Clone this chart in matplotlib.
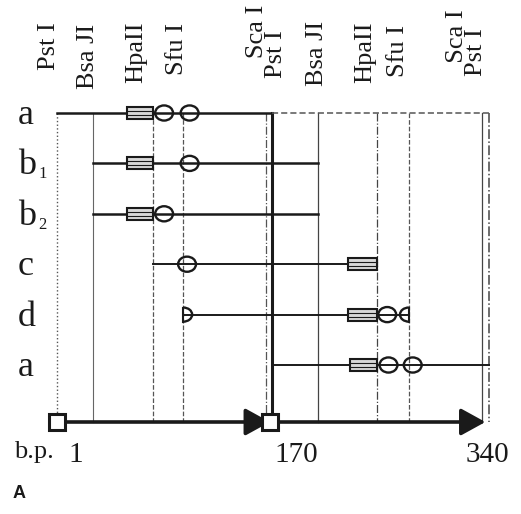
import matplotlib
matplotlib.use("Agg")
import matplotlib.pyplot as plt
from matplotlib.patches import Rectangle, Ellipse, Arc

# restriction sites along the 340 bp dimer (bp)
site_names = ["Pst I", "Bsa JI", "HpaII", "Sfu I", "Sca I", "Pst I",
              "Bsa JI", "HpaII", "Sfu I", "Sca I", "Pst I"]
site_bp = [1, 29, 76, 100, 165, 170, 206, 252, 277, 334, 340]

# fragments (rows)
row_names = ["a", "b", "b", "c", "d", "a"]
row_subs = ["", "1", "2", "", "", ""]
row_start = [1, 29, 29, 76, 100, 170]
row_end = [170, 206, 206, 252, 277, 340]
row_rects = [[(56, 76)], [(56, 76)], [(56, 76)], [(229, 252)], [(229, 252)], [(231, 252)]]
row_circles = [[85, 105], [105], [85], [103], [260], [261, 280]]
row_half_left = [None, None, None, None, 100, None]   # fragment starts inside a site
row_half_right = [None, None, None, None, 277, None]  # fragment ends inside a site

axis_ticks = [1, 170, 340]
axis_tick_labels = ["1", "170", "340"]

SERIF = ["Liberation Serif", "DejaVu Serif"]
INK = "#1a1a1a"

# layout helpers: pixel rows of the original figure -> data units
PX_ROW0, PX_STEP = 113, 50.4
def py(px):
    return (px - PX_ROW0) / PX_STEP

K = 1.275  # px per bp
X0 = 57
def bp_span(px):
    return px / K

fig = plt.figure(figsize=(5.21, 5.14), dpi=100, facecolor="white")
ax = fig.add_axes([0, 0, 1, 1])
ax.set_xlim(1 - X0 / K, 1 + (521 - X0) / K)
ax.set_ylim(py(514), py(0))
ax.axis("off")

y_top = py(113)
y_axis = py(422)

# vertical site lines
vstyles = [(":", 1.0, "#555555"), ("-", 0.8, "#666666"), ("--", 0.9, "#555555"),
           ("--", 0.9, "#555555"), ("-.", 0.9, "#555555"), ("-", 2.2, INK),
           ("-", 0.9, "#444444"), ("-.", 0.9, "#444444"), ("--", 0.9, "#555555"),
           ("-", 0.9, "#444444"), ("-.", 1.1, "#444444")]
for bp, (ls, lw, c) in zip(site_bp, vstyles):
    ax.plot([bp, bp], [y_top, y_axis], ls=ls, lw=lw, color=c, zorder=1)

# site labels (rotated); Sca I / Pst I pairs share one stacked label
labels, anchors = [], []
i = 0
while i < len(site_names):
    if site_names[i] == "Sca I":
        labels.append((site_names[i], site_names[i + 1]))
        anchors.append(site_bp[i + 1])
        i += 2
    else:
        labels.append((site_names[i],))
        anchors.append(site_bp[i])
        i += 1
lab_dx = [-8, -5, -16, -6, -6, -1, -12, -11, -23]
lab_mid = [46, 56, 52, 49, 41, 53, 52, 51, 43]
lab_lift = [0, 0, 0, 0, 3, 0, 0, 0, 2]
for lab, bp, dx, mid, lift in zip(labels, anchors, lab_dx, lab_mid, lab_lift):
    if len(lab) == 2:
        txt = " " * lift + lab[0] + "\n" + lab[1]
        ax.text(bp + bp_span(dx), py(mid), txt, rotation=90, ha="center", va="center",
                multialignment="left", linespacing=0.82,
                fontsize=19, family=SERIF, color=INK)
    else:
        ax.text(bp + bp_span(dx), py(mid), lab[0], rotation=90, ha="center", va="center",
                fontsize=19, family=SERIF, color=INK)

# fragments
for i, (nm, sub, s, e) in enumerate(zip(row_names, row_subs, row_start, row_end)):
    y = i
    lw = 1.8 if i in (0, 1, 2) else 1.4
    ax.plot([s, e], [y, y], color=INK, lw=lw, zorder=2)
    for (r0, r1) in row_rects[i]:
        ax.add_patch(Rectangle((r0, y - 0.12), r1 - r0, 0.24, facecolor="#d8d8d8",
                               edgecolor=INK, lw=1.5, zorder=3))
        ax.plot([r0, r1], [y - 0.04, y - 0.04], color=INK, lw=0.8, zorder=4)
        ax.plot([r0, r1], [y + 0.04, y + 0.04], color=INK, lw=0.8, zorder=4)
    for cx in row_circles[i]:
        ax.add_patch(Ellipse((cx, y), 14, 0.3, facecolor="none", edgecolor=INK,
                             lw=1.7, zorder=3))
    if row_half_left[i] is not None:
        ax.add_patch(Arc((row_half_left[i], y), 14, 0.28, theta1=-90, theta2=90,
                         color=INK, lw=1.7, zorder=3))
        ax.plot([row_half_left[i]] * 2, [y - 0.14, y + 0.14], color=INK, lw=1.5, zorder=3)
    if row_half_right[i] is not None:
        ax.add_patch(Arc((row_half_right[i], y), 14, 0.28, theta1=90, theta2=270,
                         color=INK, lw=1.7, zorder=3))
        ax.plot([row_half_right[i]] * 2, [y - 0.14, y + 0.14], color=INK, lw=1.5, zorder=3)
    ax.text(1 + bp_span(18 - X0), y + 0.05, nm, ha="left", va="center",
            fontsize=26, family=SERIF, color=INK)
    if sub:
        ax.text(1 + bp_span(38 - X0), y + 0.22, sub, ha="left", va="center",
                fontsize=12, family=SERIF, color=INK)

# dashed continuation of the full-length dimer
ax.plot([row_end[0], site_bp[-1]], [0, 0], ls=(0, (4, 2)), lw=1.1, color="#555555", zorder=2)

# bp axis: two monomer arrows
for (x0, x1) in [(1, 168), (169, 337)]:
    ax.annotate("", xy=(x1, y_axis), xytext=(x0, y_axis),
                arrowprops=dict(arrowstyle="-|>,head_length=1.0,head_width=0.55",
                                lw=2.6, color=INK, mutation_scale=15, shrinkA=0, shrinkB=0),
                zorder=5)
for xs in (1, 168):
    ax.plot([xs], [y_axis], marker="s", ms=11, mfc="white", mec=INK, mew=2.2, zorder=6)

tick_dx = [19, 24, -2]
for t, lab, dx in zip(axis_ticks, axis_tick_labels, tick_dx):
    ax.text(t + bp_span(dx), py(455), lab, ha="center", va="center",
            fontsize=21, family=SERIF, color=INK)
ax.text(1 + bp_span(14 - X0), py(452), "b.p.", ha="left", va="center",
        fontsize=19, family=SERIF, color=INK)

ax.text(1 + bp_span(13 - X0), py(494), "A", ha="left", va="center",
        fontsize=13, fontweight="bold", family=["Liberation Sans", "DejaVu Sans"], color=INK)

fig.savefig("out.png", dpi=100, facecolor="white")
